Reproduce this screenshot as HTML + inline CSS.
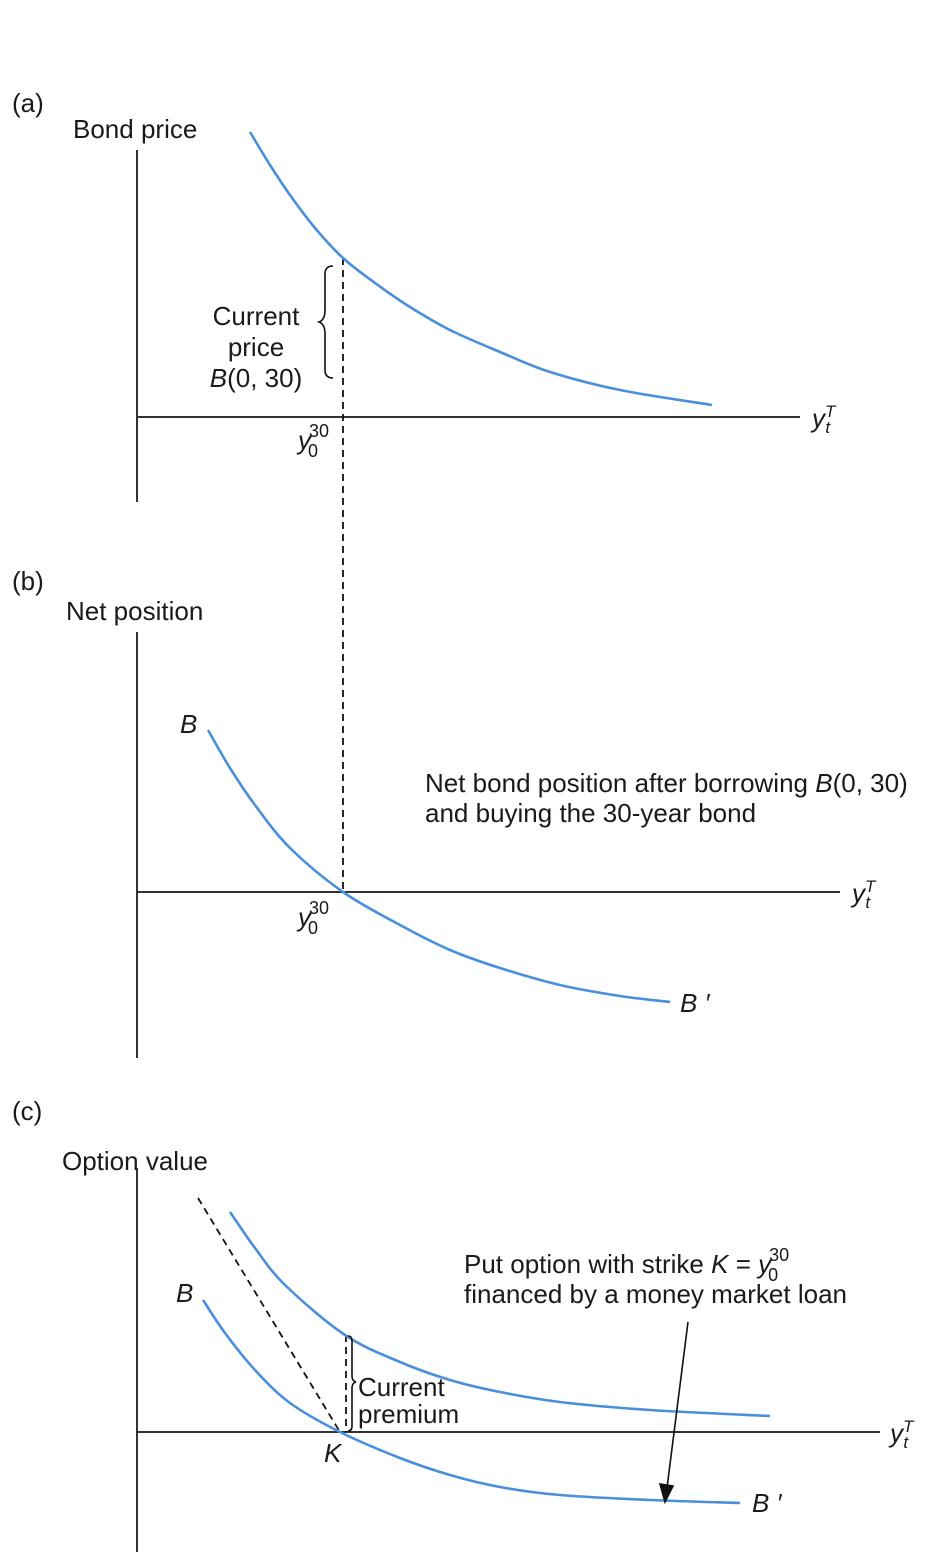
<!DOCTYPE html>
<html><head><meta charset="utf-8"><style>
html,body{margin:0;padding:0;background:#fff;}
svg{display:block;font-family:"Liberation Sans",sans-serif;}
text{font-size:26px;fill:#1a1a1a;}
.it{font-style:italic;}
</style></head><body>
<svg id="chart" width="927" height="1560" viewBox="0 0 927 1560">
<g id="axes" stroke="#333" stroke-width="2" fill="none">
<line x1="137" y1="150" x2="137" y2="502"/>
<line x1="137" y1="417" x2="800" y2="417"/>
<line x1="137" y1="632" x2="137" y2="1058"/>
<line x1="137" y1="892" x2="840" y2="892"/>
<line x1="137" y1="1168" x2="137" y2="1552"/>
<line x1="137" y1="1432" x2="880" y2="1432"/>
</g>
<g stroke="#111" stroke-width="1.8" fill="none" stroke-dasharray="7,5">
<line x1="343" y1="258" x2="343" y2="892"/>
<line x1="198" y1="1198" x2="340" y2="1432"/>
<line x1="346" y1="1335" x2="346" y2="1432"/>
</g>
<g id="curves" fill="none" stroke="#4a8fdc" stroke-width="2.6"></g>
<g stroke="#111" stroke-width="1.6" fill="none">
<path d="M333,266 q-8,0 -8,8 v36 q0,10 -6,12 q6,2 6,12 v36 q0,8 8,8"/>
<path d="M348,1336 q4,0 4,5 v35 q0,5 4,6 q-4,1 -4,6 v38 q0,5 -4,5"/>
<line x1="688" y1="1322" x2="667" y2="1488"/>
<polygon points="665,1502 660,1484 673,1486" fill="#111"/>
</g>
<text x="12" y="112">(a)</text>
<text x="73" y="138">Bond price</text>
<text x="256" y="325" text-anchor="middle">Current</text>
<text x="256" y="356" text-anchor="middle">price</text>
<text x="256" y="387" text-anchor="middle"><tspan class="it">B</tspan>(0, 30)</text>
<text x="298" y="449"><tspan class="it">y</tspan><tspan font-size="18" dy="-12" dx="-2">30</tspan><tspan font-size="18" dx="-21" dy="20">0</tspan></text>
<text x="812" y="427"><tspan class="it">y</tspan><tspan class="it" font-size="17" dy="-10">T</tspan><tspan class="it" font-size="17" dx="-10" dy="16">t</tspan></text>
<text x="12" y="590">(b)</text>
<text x="66" y="620">Net position</text>
<text x="180" y="733" class="it">B</text>
<text x="425" y="792">Net bond position after borrowing <tspan class="it">B</tspan>(0, 30)</text>
<text x="425" y="822">and buying the 30-year bond</text>
<text x="298" y="926"><tspan class="it">y</tspan><tspan font-size="18" dy="-12" dx="-2">30</tspan><tspan font-size="18" dx="-21" dy="20">0</tspan></text>
<text x="852" y="902"><tspan class="it">y</tspan><tspan class="it" font-size="17" dy="-10">T</tspan><tspan class="it" font-size="17" dx="-10" dy="16">t</tspan></text>
<text x="680" y="1012" class="it">B ′</text>
<text x="12" y="1120">(c)</text>
<text x="62" y="1170">Option value</text>
<text x="176" y="1302" class="it">B</text>
<text x="358" y="1396">Current</text>
<text x="358" y="1423">premium</text>
<text x="324" y="1462" class="it">K</text>
<text x="464" y="1273">Put option with strike <tspan class="it">K</tspan> = <tspan class="it">y</tspan><tspan font-size="18" dy="-12" dx="-2">30</tspan><tspan font-size="18" dx="-21" dy="20">0</tspan></text>
<text x="464" y="1303">financed by a money market loan</text>
<text x="890" y="1442"><tspan class="it">y</tspan><tspan class="it" font-size="17" dy="-10">T</tspan><tspan class="it" font-size="17" dx="-10" dy="16">t</tspan></text>
<text x="752" y="1512" class="it">B ′</text>
</svg>
<script>
// Curve data: x = yield units, v = value units
const priceX = [2.26, 2.66, 3.06, 3.56, 4.12, 4.76, 5.46, 6.26, 7.26, 8.26, 9.66, 11.5];
const priceV = [5.7, 5.04, 4.44, 3.78, 3.18, 2.68, 2.2, 1.74, 1.3, 0.9, 0.54, 0.24];
const netX = [1.42, 1.86, 2.36, 3.06, 4.12, 5.26, 6.26, 7.26, 8.46, 9.66, 10.66];
const netV = [3.24, 2.48, 1.74, 0.88, 0, -0.66, -1.16, -1.52, -1.86, -2.08, -2.2];
const lowerX = [1.32, 1.76, 2.36, 3.06, 4.06, 5.26, 6.26, 7.26, 8.46, 10.26, 12.06];
const lowerV = [2.64, 1.98, 1.24, 0.58, 0, -0.52, -0.86, -1.1, -1.26, -1.36, -1.42];
const upperX = [1.86, 2.36, 2.96, 4.16, 5.26, 6.26, 7.26, 8.46, 10.26, 12.66];
const upperV = [4.4, 3.68, 2.94, 1.94, 1.4, 1.04, 0.8, 0.6, 0.44, 0.32];

const UNIT = 50, X0 = 137;
function sx(x){ return X0 + x*UNIT; }
function makeSy(origin){ return v => origin - v*UNIT; }
function pathFor(xs, vs, sy){
  const p = xs.map((x,i)=>[sx(x), sy(vs[i])]);
  let d = 'M' + p[0][0] + ',' + p[0][1];
  for (let i=0;i<p.length-1;i++){
    const a=p[Math.max(i-1,0)], b=p[i], c=p[i+1], e=p[Math.min(i+2,p.length-1)];
    const c1=[b[0]+(c[0]-a[0])/6, b[1]+(c[1]-a[1])/6];
    const c2=[c[0]-(e[0]-b[0])/6, c[1]-(e[1]-b[1])/6];
    d += ' C'+c1[0]+','+c1[1]+' '+c2[0]+','+c2[1]+' '+c[0]+','+c[1];
  }
  return d;
}
const g = document.getElementById('curves');
function addCurve(xs, vs, origin, name){
  const el = document.createElementNS('http://www.w3.org/2000/svg','path');
  el.setAttribute('d', pathFor(xs, vs, makeSy(origin)));
  
  
  g.appendChild(el);
}
addCurve(priceX, priceV, 417, 'bond-price-curve');
addCurve(netX, netV, 892, 'net-position-curve');
addCurve(lowerX, lowerV, 1432, 'net-bond-curve-c');
addCurve(upperX, upperV, 1432, 'put-option-curve');
</script>
</body></html>
